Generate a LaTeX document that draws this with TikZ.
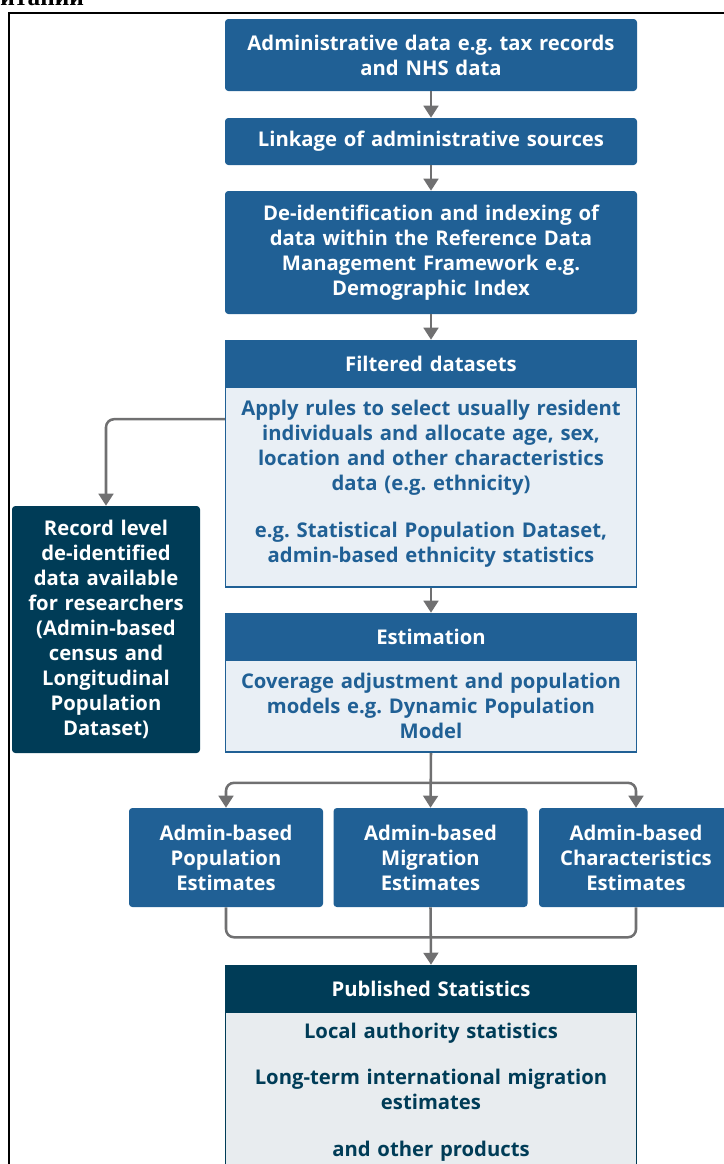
\documentclass[tikz,border=0pt]{standalone}
\usepackage{fontspec}
\setmainfont{Open Sans}
\newfontfamily\cyrserif{Liberation Serif}
\usetikzlibrary{arrows.meta,positioning}
\frenchspacing

\definecolor{onsblue}{HTML}{206095}
\definecolor{onsnavy}{HTML}{003C57}
\definecolor{paleblue}{HTML}{E9EFF5}
\definecolor{palegrey}{HTML}{E8ECEF}
\definecolor{arrowgrey}{HTML}{707071}

\tikzset{
  boxtext/.style={font=\bfseries\fontsize{15.2}{18.75}\selectfont, align=center},
  bluebox/.style={boxtext, fill=onsblue, text=white, rounded corners=2.5pt,
    inner sep=0pt, minimum width=309pt, text width=300pt},
  navybox/.style={bluebox, fill=onsnavy},
  headbox/.style={bluebox, minimum height=35.25pt, sharp corners},
  bodybox/.style={boxtext, draw=onsblue, line width=1.2pt, fill=paleblue, text=onsblue,
    inner sep=0pt, minimum width=308pt, text width=300pt},
  smallbox/.style={bluebox, minimum width=145.5pt, text width=142pt, minimum height=74.25pt},
  flow/.style={draw=arrowgrey, line width=1.9pt, rounded corners=6pt},
  tip/.style={-{Triangle[width=11pt,length=9pt]}}
}

\begin{document}
\begin{tikzpicture}[x=0.75pt,y=-0.75pt]
\useasboundingbox (0,0) rectangle (724,1164);

% cut-off title and frame
\node[anchor=base west, inner sep=0pt, font=\cyrserif\bfseries\fontsize{19}{20}\selectfont] (title) at (0,5) {итании};
\draw[line width=1.6pt] (9,1200) -- (9,13) -- (760,13);

% main column
\node[bluebox, minimum height=54pt] (admin) at (431,55)
  {Administrative data e.g. tax records\\ and NHS data};
\node[bluebox, minimum height=35.25pt] (linkage) at (431,141.5)
  {Linkage of administrative sources};
\node[bluebox, minimum height=92.25pt] (deident) at (431,252.5)
  {De-identification and indexing of\\ data within the Reference Data\\
   Management Framework e.g.\\ Demographic Index};

\node[bodybox, minimum height=150pt] (filterbody) at (431,487)
  {Apply rules to select usually resident\\ individuals and allocate age, sex,\\
   location and other characteristics\\ data (e.g. ethnicity)\\[16.5pt]
   e.g. Statistical Population Dataset,\\ admin-based ethnicity statistics\\[-10pt]\mbox{}};
\node[headbox] (filterhead) at (431,363.5) {Filtered datasets};

\node[navybox, minimum width=141pt, text width=138pt, minimum height=185.25pt] (record) at (106,629.5)
  {Record level\\ de-identified\\ data available\\ for researchers\\ (Admin-based\\
   census and\\ Longitudinal\\ Population\\ Dataset)};

\node[bodybox, minimum height=69pt] (estbody) at (431,706)
  {Coverage adjustment and population\\ models e.g. Dynamic Population\\ Model};
\node[headbox] (esthead) at (431,636.5) {Estimation};

\node[smallbox] (popest) at (226,857.5) {Admin-based\\ Population\\ Estimates};
\node[smallbox] (migest) at (430.5,857.5) {Admin-based\\ Migration\\ Estimates};
\node[smallbox] (charest) at (636,857.5) {Admin-based\\ Characteristics\\ Estimates};

\node[bodybox, draw=onsnavy, fill=palegrey, text=onsnavy, minimum height=120pt] (pubbody) at (431,1092)
  {Local authority statistics\\[16pt]
   Long-term international migration\\ estimates\\[16pt]
   and other products};
\node[headbox, fill=onsnavy] (pubhead) at (431,988.5) {Published Statistics};

% connectors
\draw[flow, tip] (admin) -- (linkage);
\draw[flow, tip] (linkage) -- (deident);
\draw[flow, tip] (deident) -- (filterhead);
\draw[flow, tip] ([yshift=-24.75pt]filterbody.north west) -| (record.north);
\draw[flow, tip] (filterbody) -- (esthead);
\draw[flow] (estbody.south) -- ++(0,30) coordinate (fork);
\draw[flow, tip] (fork) -| (popest.north);
\draw[flow, tip] (fork) -| (charest.north);
\draw[flow, tip] (estbody.south) -- (migest.north);
\draw[flow] (popest.south) |- ([yshift=-22.5pt]migest.south) -| (charest.south);
\draw[flow, tip] (migest.south) -- (pubhead.north);
\end{tikzpicture}
\end{document}
